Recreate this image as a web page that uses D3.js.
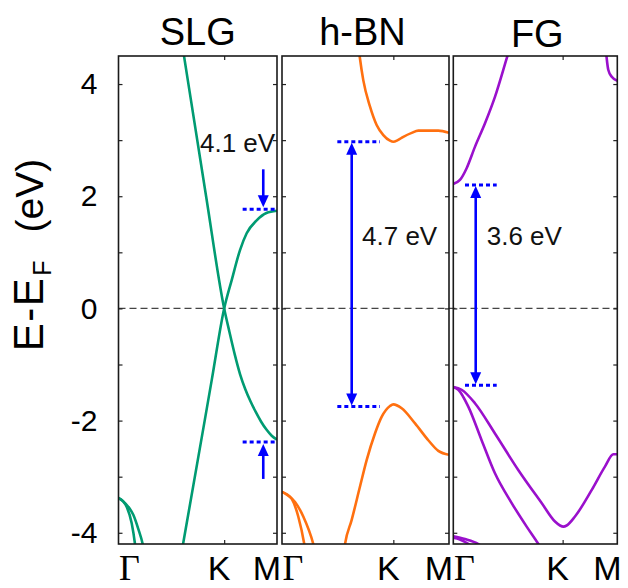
<!DOCTYPE html>
<html><head><meta charset="utf-8">
<script src="https://cdn.jsdelivr.net/npm/d3@7"></script>
<style>body{margin:0;background:#fff}</style>
</head><body><svg id="c" width="628" height="588"></svg>
<script>
// ---------- data ----------
const panelTitles = ["SLG", "h-BN", "FG"];
const kLabels = ["Γ", "K", "M"];
const kPositions = [0, 1, 1.5];
const yTickValues = [-4, -3, -2, -1, 0, 1, 2, 3, 4];
const yLabelValues = [-4, -2, 0, 2, 4];

// SLG bands [k-path position, E (eV)]
const slgBand1 = [[0.60,4.74],[0.62,4.5],[0.829,2.0],[1.0,0],[1.05,-0.42],[1.1,-0.82],[1.15,-1.17],[1.2,-1.44],[1.25,-1.66],[1.3,-1.85],[1.35,-2.02],[1.4,-2.16],[1.45,-2.27],[1.5,-2.34]];
const slgBand2 = [[0.59,-4.42],[0.611,-4.2],[0.883,-1.27],[1.0,0],[1.072,0.51],[1.15,1.04],[1.213,1.34],[1.308,1.57],[1.40,1.70],[1.5,1.74]];
const slgSigma1 = [[0,-3.38],[0.04,-3.43],[0.078,-3.54],[0.125,-3.83],[0.156,-4.2],[0.165,-4.35]];
const slgSigma2 = [[0,-3.38],[0.045,-3.44],[0.09,-3.53],[0.14,-3.68],[0.187,-3.93],[0.229,-4.2],[0.24,-4.3]];

// h-BN bands
const hbnCond = [[0.69,4.62],[0.70,4.46],[0.73,4.07],[0.79,3.60],[0.85,3.27],[0.91,3.09],[0.97,2.99],[1.0,2.97],[1.04,3.0],[1.09,3.06],[1.165,3.13],[1.224,3.17],[1.30,3.17],[1.404,3.17],[1.5,3.13]];
const hbnVal = [[0.555,-4.35],[0.566,-4.2],[0.626,-3.77],[0.70,-3.18],[0.761,-2.70],[0.835,-2.23],[0.896,-1.93],[0.97,-1.74],[1.0,-1.71],[1.075,-1.78],[1.195,-2.05],[1.314,-2.35],[1.404,-2.54],[1.5,-2.61]];
const hbnSigma1 = [[0,-3.27],[0.04,-3.31],[0.087,-3.39],[0.146,-3.71],[0.2,-4.2],[0.21,-4.32]];
const hbnSigma2 = [[0,-3.27],[0.05,-3.33],[0.117,-3.45],[0.191,-3.71],[0.281,-4.2],[0.29,-4.27]];

// FG bands
const fgCond = [[0,2.22],[0.061,2.29],[0.122,2.50],[0.198,2.88],[0.29,3.30],[0.381,3.77],[0.489,4.46],[0.52,4.66]];
const fgCondTop = [[1.39,4.75],[1.403,4.46],[1.418,4.25],[1.449,4.13],[1.5,4.06]];
const fgVal1 = [[0,-1.40],[0.076,-1.45],[0.198,-1.69],[0.381,-2.23],[0.594,-2.88],[0.808,-3.47],[0.93,-3.80],[0.976,-3.87],[1.007,-3.89],[1.037,-3.87],[1.113,-3.71],[1.265,-3.24],[1.387,-2.82],[1.464,-2.60],[1.5,-2.60]];
const fgVal2 = [[0,-1.40],[0.046,-1.45],[0.137,-1.75],[0.259,-2.35],[0.381,-2.94],[0.534,-3.47],[0.671,-3.89],[0.778,-4.2],[0.80,-4.27]];
const fgLow1 = [[0,-4.06],[0.107,-4.11],[0.229,-4.2],[0.26,-4.24]];
const fgLow2 = [[0,-4.09],[0.06,-4.12],[0.14,-4.2],[0.17,-4.24]];

// gap annotations
const gapTexts = ["4.1 eV", "4.7 eV", "3.6 eV"];
const gapTop = [1.77, 2.97, 2.20];
const gapBottom = [-2.38, -1.75, -1.37];
const gapLineFrom = [1.175, 0.497, 0.107];
const gapLineTo = [1.5, 0.88, 0.397];
const gapArrowK = [1.37, 0.626, 0.205];
const gapTextPos = [[0.771, 2.79], [0.719, 1.13], [0.306, 1.13]];
const slgArrowStart = [2.48, -3.04];

// ---------- drawing ----------
const colors = ["#009b72", "#ff7010", "#9a10cc"];
const panelBands = [
  [slgBand1, slgBand2, slgSigma1, slgSigma2],
  [hbnCond, hbnVal, hbnSigma1, hbnSigma2],
  [fgCond, fgCondTop, fgVal1, fgVal2, fgLow1, fgLow2]
];
const panelX = [[118.5, 277], [282, 449], [453.3, 617.3]];
const plotTop = 56, plotBottom = 544;
const svg = d3.select("#c");
const y = d3.scaleLinear().domain([-4.2, 4.5]).range([plotBottom, plotTop]);
const sans = "'Liberation Sans', Arial, Helvetica, sans-serif";
const blue = "#0000ff";

// zero line
svg.append("line")
  .attr("x1", panelX[0][0]).attr("x2", panelX[2][1])
  .attr("y1", y(0)).attr("y2", y(0))
  .attr("stroke", "#444").attr("stroke-width", 1.2)
  .attr("stroke-dasharray", "7,4");

function arrowHead(g, xp, tipY, dir) {
  // dir = +1 pointing down, -1 pointing up
  const L = 12, W = 5.5;
  g.append("path")
    .attr("d", `M${xp},${tipY} L${xp - W},${tipY - dir * L} L${xp + W},${tipY - dir * L} Z`)
    .attr("fill", blue);
}

panelBands.forEach((bands, i) => {
  const x = d3.scaleLinear().domain([0, 1.5]).range(panelX[i]);
  const g = svg.append("g");
  const clipId = "clip" + i;
  svg.append("clipPath").attr("id", clipId).append("rect")
    .attr("x", panelX[i][0]).attr("y", plotTop)
    .attr("width", panelX[i][1] - panelX[i][0]).attr("height", plotBottom - plotTop);

  const line = d3.line().x(d => x(d[0])).y(d => y(d[1])).curve(d3.curveMonotoneX);
  g.append("g").attr("clip-path", `url(#${clipId})`)
    .selectAll("path").data(bands).join("path")
    .attr("d", line).attr("fill", "none")
    .attr("stroke", colors[i]).attr("stroke-width", 2.6)
    .attr("stroke-linejoin", "round");

  // annotations
  const ag = g.append("g");
  [gapTop[i], gapBottom[i]].forEach(e => {
    ag.append("line")
      .attr("x1", x(gapLineFrom[i])).attr("x2", x(gapLineTo[i]))
      .attr("y1", y(e)).attr("y2", y(e))
      .attr("stroke", blue).attr("stroke-width", 3)
      .attr("stroke-dasharray", "4,3");
  });
  const ax = x(gapArrowK[i]);
  if (i === 0) {
    const t1 = y(gapTop[i]) - 2, t2 = y(gapBottom[i]) + 2;
    ag.append("line").attr("x1", ax).attr("x2", ax)
      .attr("y1", y(slgArrowStart[0])).attr("y2", t1 - 10)
      .attr("stroke", blue).attr("stroke-width", 2.6);
    arrowHead(ag, ax, t1, 1);
    ag.append("line").attr("x1", ax).attr("x2", ax)
      .attr("y1", y(slgArrowStart[1])).attr("y2", t2 + 10)
      .attr("stroke", blue).attr("stroke-width", 2.6);
    arrowHead(ag, ax, t2, -1);
  } else {
    const t1 = y(gapTop[i]) + 1, t2 = y(gapBottom[i]) - 1;
    ag.append("line").attr("x1", ax).attr("x2", ax)
      .attr("y1", t1 + 10).attr("y2", t2 - 10)
      .attr("stroke", blue).attr("stroke-width", 2.6);
    arrowHead(ag, ax, t1, -1);
    arrowHead(ag, ax, t2, 1);
  }
  ag.append("text")
    .attr("x", x(gapTextPos[i][0])).attr("y", y(gapTextPos[i][1]))
    .attr("font-family", sans).attr("font-size", 26).attr("fill", "#111")
    .text(gapTexts[i]);

  // axes (inner ticks)
  const left = d3.axisLeft(y).tickValues(yTickValues).tickSize(-4).tickPadding(21)
    .tickFormat(d => (i === 0 && yLabelValues.includes(d)) ? String(d) : "");
  const la = svg.append("g").attr("transform", `translate(${panelX[i][0]},0)`).call(left);
  la.select(".domain").remove();
  la.selectAll("text").attr("font-family", sans).attr("font-size", 30).attr("fill", "#000");
  const right = d3.axisRight(y).tickValues(yTickValues).tickSize(-4).tickFormat("");
  const ra = svg.append("g").attr("transform", `translate(${panelX[i][1]},0)`).call(right);
  ra.select(".domain").remove();
  const tAx = d3.axisTop(x).tickValues([1]).tickSize(-4).tickFormat("");
  const ta = svg.append("g").attr("transform", `translate(0,${plotTop})`).call(tAx);
  ta.select(".domain").remove();
  const bAx = d3.axisBottom(x).tickValues([1]).tickSize(-4).tickFormat("");
  const ba = svg.append("g").attr("transform", `translate(0,${plotBottom})`).call(bAx);
  ba.select(".domain").remove();
  svg.selectAll(".tick line").attr("stroke", "#222").attr("stroke-width", 1.2);

  // frame
  svg.append("rect")
    .attr("x", panelX[i][0]).attr("y", plotTop)
    .attr("width", panelX[i][1] - panelX[i][0]).attr("height", plotBottom - plotTop)
    .attr("fill", "none").attr("stroke", "#1a1a1a").attr("stroke-width", 1.6);

  // title
  svg.append("text")
    .attr("x", (panelX[i][0] + panelX[i][1]) / 2 + [0, -3, 2][i])
    .attr("y", [45, 45, 47][i])
    .attr("text-anchor", "middle")
    .attr("font-family", sans).attr("font-size", 38).attr("fill", "#000")
    .text(panelTitles[i]);

  // k-path labels
  const labOffsets = [11, -5, -10];
  kLabels.forEach((lab, j) => {
    svg.append("text")
      .attr("x", x(kPositions[j]) + labOffsets[j])
      .attr("y", 580)
      .attr("text-anchor", "middle")
      .attr("font-family", j === 0 ? "'Liberation Serif', 'Times New Roman', serif" : sans)
      .attr("font-size", j === 0 ? 36 : 34)
      .attr("fill", "#000")
      .text(lab);
  });
});

// y-axis title
const yt = svg.append("text")
  .attr("transform", "translate(43,255) rotate(-90)")
  .attr("text-anchor", "middle")
  .attr("font-family", sans).attr("font-size", 39).attr("fill", "#000");
yt.append("tspan").attr("font-size", 42).attr("letter-spacing", 1.5).text("E-E");
yt.append("tspan").attr("font-size", 25).attr("dy", 8).attr("dx", 1).text("F");
yt.append("tspan").attr("dy", -8).attr("dx", 28).text("(eV)");
</script>
</body></html>
